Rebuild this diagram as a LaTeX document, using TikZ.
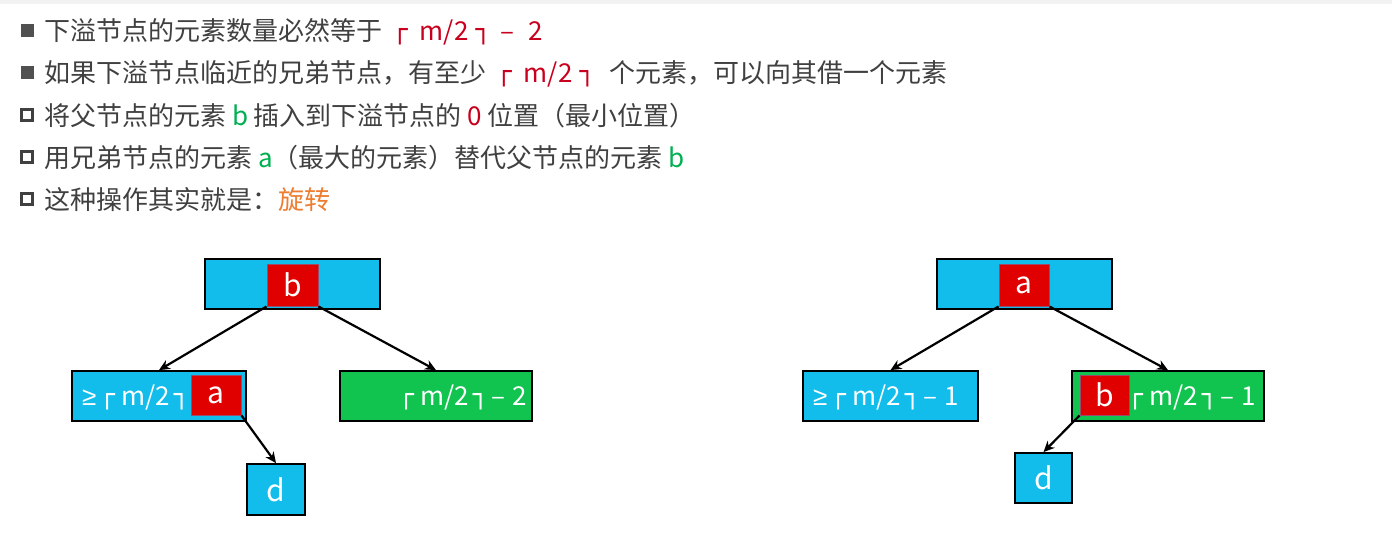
\documentclass[tikz,border=0pt]{standalone}
\usepackage{fontspec}
\setmainfont{Noto Sans CJK SC}
\newfontfamily\symfont{DejaVu Sans}
\newfontfamily\gefont{Liberation Sans}
\usepackage{xcolor}
\usepackage{tikz}
\usetikzlibrary{arrows.meta}
\definecolor{txtgray}{HTML}{404040}
\definecolor{bulgray}{HTML}{505050}
\definecolor{txtred}{HTML}{C8001E}
\definecolor{txtgreen}{HTML}{00B050}
\definecolor{txtorange}{HTML}{ED7D31}
\definecolor{boxblue}{HTML}{12BDEB}
\definecolor{boxgreen}{HTML}{11C34F}
\definecolor{boxred}{HTML}{E10000}
\definecolor{rededge}{HTML}{A04A6A}
\newcommand{\ceilL}{{\symfont\raisebox{2pt}{┌}}}
\newcommand{\ceilR}{{\symfont\raisebox{2pt}{┐}}}
\newcommand{\halfm}{\ceilL\hspace{12pt}m/2\hspace{7pt}\ceilR}
\newcommand{\halfmb}{\ceilL\hspace{6pt}m/2\hspace{4pt}\ceilR}
\newcommand{\atleast}{{\gefont ≥}}

\begin{document}
\begin{tikzpicture}[x=1pt,y=-1pt,
  line/.style={text=txtgray, inner sep=0, anchor=base west, font=\fontsize{26}{30}\selectfont},
  fillsq/.style={fill=bulgray, minimum size=13, inner sep=0},
  holsq/.style={draw=txtgray, line width=2.5pt, minimum size=11, inner sep=0},
  blbox/.style={draw=black, line width=1.8pt, fill=boxblue, minimum height=50, inner sep=0, text=white, font=\fontsize{30}{34}\selectfont},
  gnbox/.style={blbox, fill=boxgreen},
  rdbox/.style={draw=rededge, line width=1pt, fill=boxred, inner sep=0, text=white, font=\fontsize{30}{34}\selectfont},
  lbl/.style={text=white, inner sep=0, font=\fontsize{26}{30}\selectfont},
  arr/.style={line width=2.2pt, -{Stealth[length=11pt,width=10pt]}}]
\useasboundingbox (0,0) rectangle (1392,557);
\fill[gray!10] (0,0) rectangle (1392,4);

\node[fillsq] (s1) at (27,30) {};
\node[fillsq] (s2) at (27,72) {};
\node[holsq] (s3) at (27,115) {};
\node[holsq] (s4) at (27,157) {};
\node[holsq] (s5) at (27,199) {};
\node[line] (l1) at (44,40) {下溢节点的元素数量必然等于\hspace{10pt}\textcolor{txtred}{\halfm\hspace{9pt}–\hspace{14pt}2}};
\node[line] (l2) at (44,82) {如果下溢节点临近的兄弟节点，有至少\hspace{10pt}\textcolor{txtred}{\halfm}\hspace{14pt}个元素，可以向其借一个元素};
\node[line] (l3) at (44,125) {将父节点的元素 \textcolor{txtgreen}{b} 插入到下溢节点的 \textcolor{txtred}{0} 位置（最小位置）};
\node[line] (l4) at (44,167) {用兄弟节点的元素 \textcolor{txtgreen}{a}（最大的元素）替代父节点的元素 \textcolor{txtgreen}{b}};
\node[line] (l5) at (44,209) {这种操作其实就是：\textcolor{txtorange}{旋转}};

\node[blbox, minimum width=175] (p1) at (292.5,284) {};
\node[rdbox, minimum width=51, minimum height=42] (b1) at (292.5,285) {b};
\node[blbox, minimum width=174] (c1) at (159,396) {};
\node[lbl, anchor=west] (c1t) at (82,397) {\atleast\hspace{3pt}\halfmb};
\node[rdbox, minimum width=50, minimum height=40] (a1) at (216,395) {a};
\node[gnbox, minimum width=192] (c2) at (436,396) {};
\node[lbl, anchor=east] (c2t) at (527,397) {\halfmb\hspace{3pt}–\hspace{7pt}2};
\node[blbox, minimum width=58, minimum height=51] (d1) at (276,489.5) {d};
\draw[arr] (b1.south west) -- (c1.north);
\draw[arr] (b1.south east) -- (c2.north);
\draw[arr] (a1.south east) -- (d1.north);

\node[blbox, minimum width=175] (p2) at (1024.5,284) {};
\node[rdbox, minimum width=50, minimum height=42] (a2) at (1024,285) {a};
\node[blbox, minimum width=175] (c3) at (890.5,396) {};
\node[lbl, anchor=west] (c3t) at (813,397) {\atleast\hspace{3pt}\halfmb\hspace{3pt}–\hspace{7pt}1};
\node[gnbox, minimum width=192] (c4) at (1168,396) {};
\node[rdbox, minimum width=49, minimum height=40] (b2) at (1104.5,395) {b};
\node[lbl, anchor=east] (c4t) at (1256,397) {\halfmb\hspace{3pt}–\hspace{7pt}1};
\node[blbox, minimum width=57, minimum height=50] (d2) at (1043.5,478) {d};
\draw[arr] (a2.south west) -- (c3.north);
\draw[arr] (a2.south east) -- (c4.north);
\draw[arr] (b2.south west) -- (d2.north);
\end{tikzpicture}
\end{document}
